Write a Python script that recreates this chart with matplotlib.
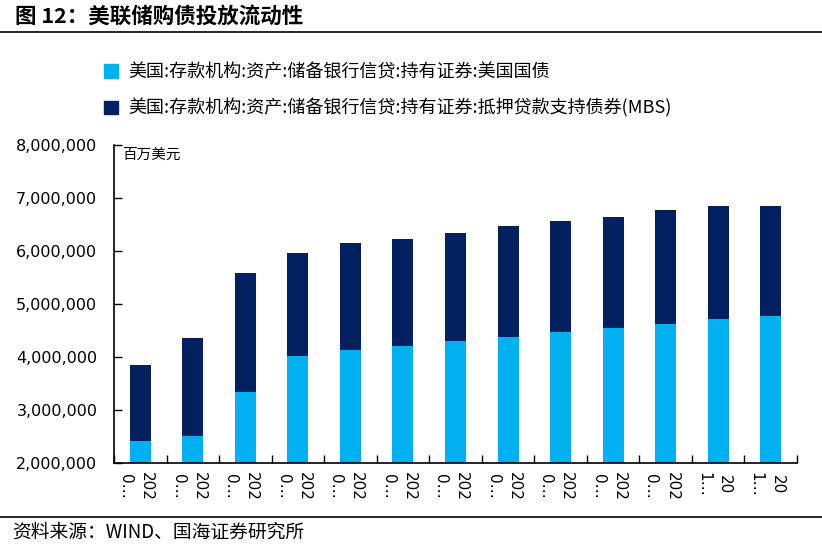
import numpy as np
import matplotlib
matplotlib.use('Agg')
import matplotlib.pyplot as plt
from matplotlib.lines import Line2D
from matplotlib.patches import Patch
from matplotlib.ticker import FuncFormatter

# Data (百万美元)
tick_labels = ['202\n0…'] * 11 + ['20\n1…'] * 2
treasury = [2.415, 2.50, 3.33, 4.02, 4.13, 4.21, 4.30, 4.38, 4.47, 4.55, 4.61, 4.71, 4.77]
total = [3.84, 4.35, 5.57, 5.95, 6.14, 6.23, 6.33, 6.46, 6.56, 6.64, 6.77, 6.84, 6.84]
treasury = np.array(treasury) * 1e6
mbs = np.array(total) * 1e6 - treasury

labels = ['美国:存款机构:资产:储备银行信贷:持有证券:美国国债',
          '美国:存款机构:资产:储备银行信贷:持有证券:抵押贷款支持债券(MBS)']
colors = ['#00B0F0', '#002060']
cjk = ['Noto Sans CJK SC', 'DejaVu Sans']

fig = plt.figure(figsize=(8.22, 5.48), dpi=100)
ax = fig.add_axes([114 / 822, 1 - 462.7 / 548, (797 - 114) / 822, (462.7 - 144.7) / 548])

x = np.arange(len(treasury))
ax.bar(x, treasury, width=0.4, color=colors[0], bottom=0)
ax.bar(x, mbs, width=0.4, color=colors[1], bottom=treasury)

ax.set_xlim(-0.5, len(x) - 0.5)
ax.set_ylim(2e6, 8e6)
ax.set_yticks(np.arange(2e6, 8.01e6, 1e6))
ax.yaxis.set_major_formatter(FuncFormatter(lambda v, p: '{:,.0f}'.format(v)))

# ticks between categories, labels at bar centres
ax.set_xticks(np.arange(-0.5, len(x), 1.0))
ax.set_xticklabels([])
ax.set_xticks(x - 0.08, minor=True)
ax.set_xticklabels(tick_labels, minor=True, rotation=-90, fontsize=11,
                   linespacing=1.5, family='DejaVu Sans', ha='center', va='top')
ax.tick_params(axis='x', which='major', direction='in', length=6, width=1)
ax.tick_params(axis='x', which='minor', length=0, pad=7)
ax.tick_params(axis='y', direction='in', length=6, width=1, labelsize=11.5, pad=12)

for s in ['top', 'right']:
    ax.spines[s].set_visible(False)
for s in ['left', 'bottom']:
    ax.spines[s].set_linewidth(1.2)

ax.text(0.012, 0.99, '百万美元', transform=ax.transAxes, ha='left', va='top',
        fontsize=10.5, family=cjk)

# legend
handles = [Patch(color=c) for c in colors]
fig.legend(handles, labels, loc='upper left', bbox_to_anchor=(88 / 822, 1 - 47 / 548),
           frameon=False, handlelength=0.75, handleheight=0.75, handletextpad=0.6,
           labelspacing=0.95, prop={'family': cjk, 'size': 13})

# title and source
fig.text(15 / 822, 1 - 16 / 548, '图 12：美联储购债投放流动性', ha='left', va='center',
         fontsize=15.5, fontweight='bold', family=cjk)
fig.add_artist(Line2D([0, 1], [1 - 32 / 548, 1 - 32 / 548], color='black', lw=1.2))
fig.add_artist(Line2D([0, 1], [1 - 517 / 548, 1 - 517 / 548], color='black', lw=1.2))
fig.text(12 / 822, 1 - 532 / 548, '资料来源：WIND、国海证券研究所', ha='left', va='center',
         fontsize=13.5, family=cjk)

fig.savefig('out.png', dpi=100)
